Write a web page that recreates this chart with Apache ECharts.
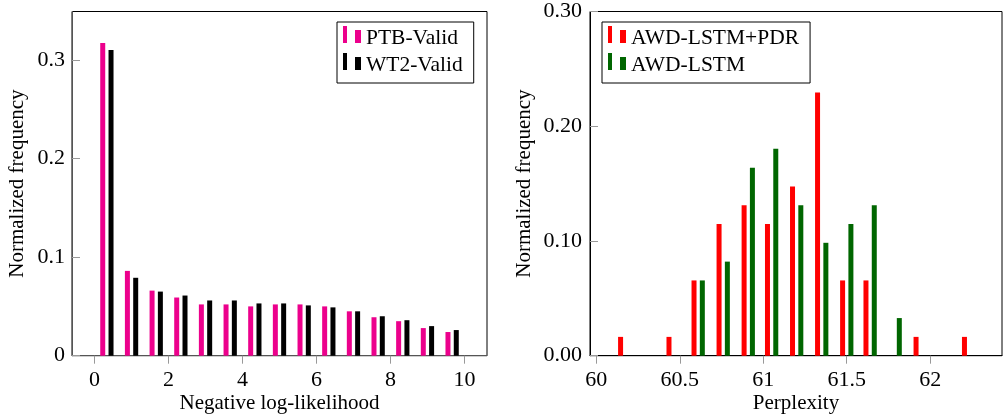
<!DOCTYPE html>
<html>
<head>
<meta charset="utf-8">
<script src="https://cdn.jsdelivr.net/npm/echarts@6/dist/echarts.min.js"></script>
<style>
html,body{margin:0;padding:0;background:#fff;}
#chart{width:1003px;height:414px;}
</style>
</head>
<body>
<div id="chart"></div>
<script>
// Left panel: NLL histogram bin centres and normalized frequencies
const nllBins = [0.333, 1.0, 1.667, 2.333, 3.0, 3.667, 4.333, 5.0, 5.667, 6.333, 7.0, 7.667, 8.333, 9.0, 9.667];
const ptbValid = [0.317, 0.086, 0.066, 0.059, 0.052, 0.052, 0.050, 0.052, 0.052, 0.050, 0.045, 0.039, 0.035, 0.028, 0.024];
const wt2Valid = [0.310, 0.079, 0.065, 0.061, 0.056, 0.056, 0.053, 0.053, 0.051, 0.049, 0.045, 0.040, 0.036, 0.030, 0.026];
const nllTicks = [0, 2, 4, 6, 8, 10];
const freqTicksLeft = [0, 0.1, 0.2, 0.3];

// Right panel: perplexity histogram bin centres and normalized frequencies
const pplBins = [60.17, 60.32, 60.46, 60.61, 60.76, 60.91, 61.05, 61.20, 61.35, 61.50, 61.64, 61.79, 61.94, 62.08, 62.23];
const awdPdr = [0.0164, 0, 0.0164, 0.0656, 0.1148, 0.1311, 0.1148, 0.1475, 0.2295, 0.0656, 0.0656, 0, 0.0164, 0, 0.0164];
const awdLstm = [0, 0, 0, 0.0656, 0.0820, 0.1639, 0.1803, 0.1311, 0.0984, 0.1148, 0.1311, 0.0328, 0, 0, 0];
const pplTicks = [60, 60.5, 61, 61.5, 62];
const freqTicksRight = [0, 0.1, 0.2, 0.3];

const FONT = 'Liberation Serif';
// two-bar legend glyph; trailing move-to leaves blank room under the bars
const ICON = 'path://M0 0h4v17h-4z M12 4h6v13h-6z M18 25';
const pair = (xs, ys) => xs.map((x, i) => [x, ys[i]]);

const chart = echarts.init(document.getElementById('chart'), null, {renderer: 'canvas'});

const tickLabel = {fontFamily: FONT, fontSize: 22, color: '#000'};
const nameStyle = {fontFamily: FONT, fontSize: 21, color: '#000'};

const legendBase = {
  top: 22, orient: 'vertical',
  borderColor: '#000', borderWidth: 1, padding: [4, 11, 5, 6],
  itemWidth: 18, itemHeight: 25, itemGap: 2,
  textStyle: {fontFamily: FONT, fontSize: 21.5, color: '#000'}
};

const option = {
  animation: false,
  backgroundColor: '#fff',
  grid: [
    {left: 72, right: 516, top: 11.5, bottom: 58.3, show: true, borderColor: '#000', borderWidth: 1,
     backgroundColor: 'transparent', outerBoundsMode: 'none', containLabel: false},
    {left: 590, right: 1, top: 11.5, bottom: 58.3, show: true, borderColor: '#000', borderWidth: 1,
     backgroundColor: 'transparent', outerBoundsMode: 'none', containLabel: false}
  ],
  xAxis: [
    {
      type: 'value', gridIndex: 0, min: -0.61, max: 10.61,
      splitLine: {show: false},
      axisLine: {onZero: false, lineStyle: {color: '#555', width: 1}},
      axisTick: {show: true, inside: false, length: 8, lineStyle: {color: '#999'}, customValues: nllTicks},
      axisLabel: Object.assign({margin: 14, customValues: nllTicks, formatter: v => String(v)}, tickLabel),
      name: 'Negative log-likelihood', nameLocation: 'middle', nameGap: 37, nameMoveOverlap: false,
      nameTextStyle: nameStyle
    },
    {
      type: 'value', gridIndex: 1, min: 59.962, max: 62.43,
      splitLine: {show: false},
      axisLine: {onZero: false, lineStyle: {color: '#000', width: 1}},
      axisTick: {show: true, inside: false, length: 8, lineStyle: {color: '#999'}, customValues: pplTicks},
      axisLabel: Object.assign({margin: 14, customValues: pplTicks, formatter: v => String(v)}, tickLabel),
      name: 'Perplexity', nameLocation: 'middle', nameGap: 37, nameMoveOverlap: false,
      nameTextStyle: nameStyle
    }
  ],
  yAxis: [
    {
      type: 'value', gridIndex: 0, min: 0, max: 0.349,
      splitLine: {show: false},
      axisLine: {show: true, onZero: false, lineStyle: {color: '#555', width: 1}},
      axisTick: {show: true, inside: true, length: 8, lineStyle: {color: '#999'}, customValues: freqTicksLeft},
      axisLabel: Object.assign({margin: 7, customValues: freqTicksLeft, formatter: v => (v === 0 ? '0' : String(+v.toFixed(2)))}, tickLabel),
      name: 'Normalized frequency', nameLocation: 'middle', nameGap: 44, nameMoveOverlap: false,
      nameTextStyle: nameStyle
    },
    {
      type: 'value', gridIndex: 1, min: 0, max: 0.30,
      splitLine: {show: false},
      axisLine: {show: true, onZero: false, lineStyle: {color: '#000', width: 1}},
      axisTick: {show: true, inside: true, length: 8, lineStyle: {color: '#999'}, customValues: freqTicksRight},
      axisLabel: Object.assign({margin: 8, customValues: freqTicksRight, formatter: v => v.toFixed(2)}, tickLabel),
      name: 'Normalized frequency', nameLocation: 'middle', nameGap: 55, nameMoveOverlap: false,
      nameTextStyle: nameStyle
    }
  ],
  legend: [
    Object.assign({left: 337, data: [{name: 'PTB-Valid', icon: ICON}, {name: 'WT2-Valid', icon: ICON}]}, legendBase),
    Object.assign({left: 602, data: [{name: 'AWD-LSTM+PDR', icon: ICON}, {name: 'AWD-LSTM', icon: ICON}]}, legendBase)
  ],
  series: [
    {name: 'PTB-Valid', type: 'bar', xAxisIndex: 0, yAxisIndex: 0, barWidth: 5, barGap: '66%',
     itemStyle: {color: '#EC008C'}, data: pair(nllBins, ptbValid)},
    {name: 'WT2-Valid', type: 'bar', xAxisIndex: 0, yAxisIndex: 0, barWidth: 5, barGap: '66%',
     itemStyle: {color: '#000000'}, data: pair(nllBins, wt2Valid)},
    {name: 'AWD-LSTM+PDR', type: 'bar', xAxisIndex: 1, yAxisIndex: 1, barWidth: 5, barGap: '66%',
     itemStyle: {color: '#FF0000'}, data: pair(pplBins, awdPdr)},
    {name: 'AWD-LSTM', type: 'bar', xAxisIndex: 1, yAxisIndex: 1, barWidth: 5, barGap: '66%',
     itemStyle: {color: '#006600'}, data: pair(pplBins, awdLstm)}
  ]
};
chart.setOption(option);
</script>
</body>
</html>
